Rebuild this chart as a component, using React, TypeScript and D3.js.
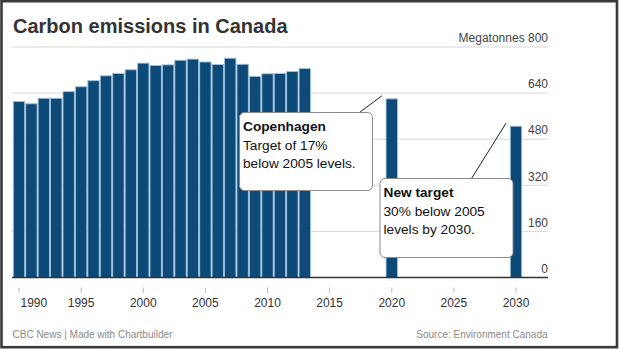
import React from "react";
import * as d3 from "d3";

// ---- data ----
const histYears = [1990, 1991, 1992, 1993, 1994, 1995, 1996, 1997, 1998, 1999, 2000, 2001, 2002, 2003, 2004, 2005, 2006, 2007, 2008, 2009, 2010, 2011, 2012, 2013];
const histValues = [611, 603, 622, 622, 645, 662, 683, 700, 708, 721, 744, 736, 738, 754, 758, 748, 739, 761, 740, 698, 707, 708, 715, 725];
const targetYears = [2020, 2030];
const targetValues = [620, 525];
const xTicks = [1990, 1995, 2000, 2005, 2010, 2015, 2020, 2025, 2030];
const yTicks = [0, 160, 320, 480, 640, 800];
const calloutTitles = ["Copenhagen", "New target"];
const calloutLines = [
  ["Target of 17%", "below 2005 levels."],
  ["30% below 2005", "levels by 2030."],
];

const W = 620;
const H = 349;
const FONT = "'Liberation Sans', Arial, Helvetica, sans-serif";

export default function App() {
  const x = d3.scaleLinear().domain([1990, 2030]).range([19, 516]);
  const y = d3.scaleLinear().domain([0, 800]).range([277.5, 47]);
  const barW = 11.4;
  const left = 12;
  const right = 548;

  const bars = [
    ...histYears.map((yr, i) => ({ yr, v: histValues[i] })),
    ...targetYears.map((yr, i) => ({ yr, v: targetValues[i] })),
  ];

  // callout boxes layout
  const boxes = [
    { x0: 239.5, y0: 112.5, w: 133, h: 78, lx: 359.5, ty: 131 },
    { x0: 380, y0: 178.5, w: 133, h: 79, lx: 471.5, ty: 197 },
  ];

  return (
    <svg
      width={W}
      height={H}
      style={{ position: "fixed", left: 0, top: 0, background: "#fff" }}
      fontFamily={FONT}
    >
      <rect x={0} y={0} width={W} height={H} fill="#fff" />
      {/* title */}
      <text x={13} y={33} fontSize={20} fontWeight="bold" fill="#333">
        Carbon emissions in Canada
      </text>

      {/* gridlines */}
      {yTicks.map((t) =>
        t === 0 ? null : (
          <line key={"g" + t} x1={left} x2={right} y1={y(t)} y2={y(t)} stroke="#d8d8d8" strokeWidth={1} />
        )
      )}

      {/* y labels */}
      {yTicks.map((t) => (
        <text key={"yl" + t} x={right} y={y(t) - 4.8} textAnchor="end" fontSize={12} fill="#444">
          {t === 800 ? "Megatonnes 800" : String(t)}
        </text>
      ))}

      {/* bars */}
      {bars.map((b) => (
        <rect
          key={"b" + b.yr}
          x={x(b.yr) - barW / 2}
          y={y(b.v)}
          width={barW}
          height={y(0) - y(b.v)}
          fill="#0e4a77"
          stroke="#9cc0dd"
          strokeWidth={0.9}
        />
      ))}

      {/* baseline */}
      <line x1={left} x2={right} y1={y(0)} y2={y(0)} stroke="#333" strokeWidth={1.5} />

      {/* x ticks */}
      {xTicks.map((t, i) => (
        <g key={"xt" + t}>
          <line x1={x(t)} x2={x(t)} y1={287.5} y2={293} stroke="#bbb" strokeWidth={1} />
          <text
            x={i === 0 ? x(t) + 1.5 : x(t)}
            y={306.5}
            textAnchor={i === 0 ? "start" : "middle"}
            fontSize={12}
            fill="#333"
          >
            {t}
          </text>
        </g>
      ))}

      {/* callouts */}
      {boxes.map((bx, i) => {
        const ex = x(targetYears[i]) - 10;
        const ey = y(targetValues[i]) - 3;
        return (
          <g key={"c" + i}>
            <line x1={bx.lx} y1={bx.y0} x2={ex} y2={ey} stroke="#222" strokeWidth={1} />
            <rect x={bx.x0} y={bx.y0} width={bx.w} height={bx.h} rx={5} ry={5} fill="#fff" stroke="#8a8a8a" strokeWidth={1} />
            <text x={bx.x0 + 3.5} y={bx.ty} fontSize={13.7} fontWeight="bold" fill="#111">
              {calloutTitles[i]}
            </text>
            {calloutLines[i].map((ln, j) => (
              <text key={j} x={bx.x0 + 3.5} y={bx.ty + 18.5 * (j + 1)} fontSize={13.7} fill="#111">
                {ln}
              </text>
            ))}
          </g>
        );
      })}

      {/* footer */}
      <text x={12.5} y={337.5} fontSize={10} fill="#8a8a8a">
        CBC News | Made with Chartbuilder
      </text>
      <text x={547.5} y={337.5} textAnchor="end" fontSize={10} fill="#8a8a8a">
        Source: Environment Canada
      </text>

      {/* frame */}
      <rect x={1.5} y={1.2} width={615.5} height={346} fill="none" stroke="#3a3a3a" strokeWidth={2.6} />
    </svg>
  );
}
